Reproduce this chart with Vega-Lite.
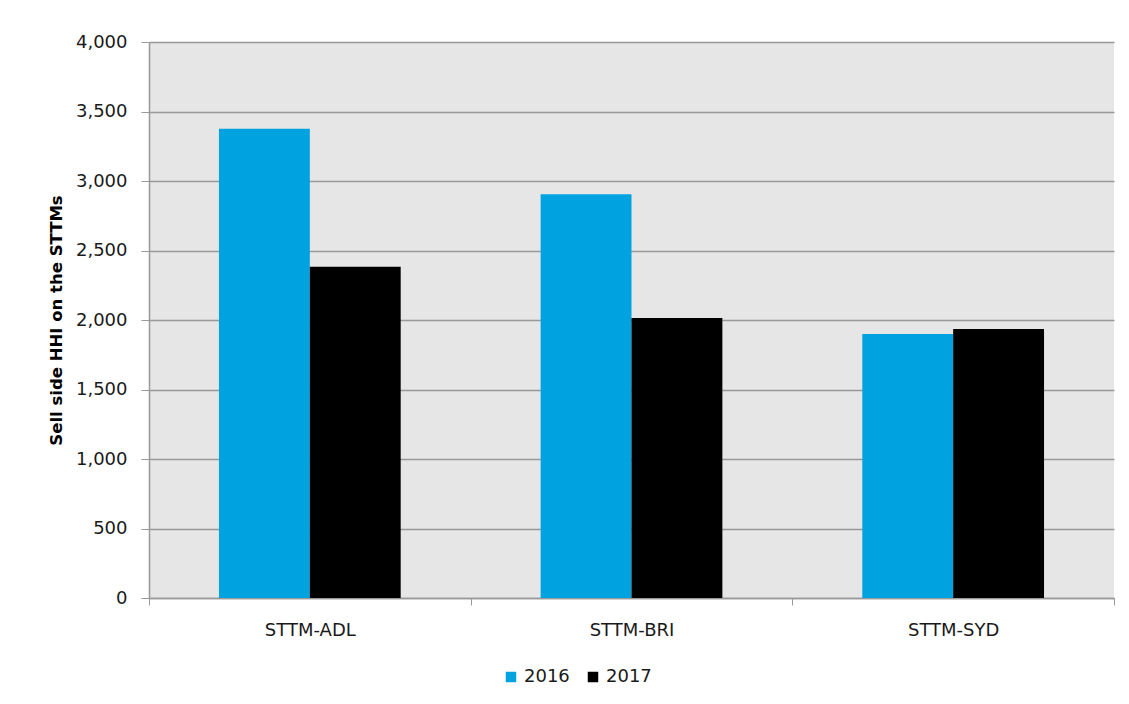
{
  "$schema": "https://vega.github.io/schema/vega-lite/v6.json",
  "autosize": "none",
  "width": 965,
  "height": 556,
  "padding": {"left": 149, "top": 42, "right": 15, "bottom": 106},
  "background": "white",
  "config": {
    "view": {"fill": "#E6E6E6", "stroke": null},
    "font": "DejaVu Sans"
  },
  "data": {
    "values": [
      {"market": "STTM-ADL", "year": "2016", "hhi": 3376},
      {"market": "STTM-ADL", "year": "2017", "hhi": 2383},
      {"market": "STTM-BRI", "year": "2016", "hhi": 2905},
      {"market": "STTM-BRI", "year": "2017", "hhi": 2015},
      {"market": "STTM-SYD", "year": "2016", "hhi": 1900},
      {"market": "STTM-SYD", "year": "2017", "hhi": 1936}
    ]
  },
  "mark": {"type": "bar"},
  "encoding": {
    "x": {
      "field": "market",
      "type": "nominal",
      "scale": {"paddingInner": 0, "paddingOuter": 0},
      "axis": {
        "title": null,
        "labelAngle": 0,
        "labelFont": "DejaVu Sans",
        "labelFontSize": 18,
        "labelColor": "#1a1a1a",
        "labelPadding": 16,
        "tickBand": "extent",
        "tickSize": 7,
        "tickColor": "#999999",
        "domainColor": "#999999",
        "domainWidth": 1.5,
        "grid": false
      }
    },
    "xOffset": {
      "field": "year",
      "type": "nominal",
      "scale": {"paddingInner": 0, "paddingOuter": 0.77}
    },
    "y": {
      "field": "hhi",
      "type": "quantitative",
      "scale": {"domain": [0, 4000]},
      "axis": {
        "title": "Sell side HHI on the STTMs",
        "titleFont": "DejaVu Sans",
        "titleFontSize": 16.5,
        "titleFontWeight": "bold",
        "titleColor": "#000000",
        "titlePadding": 11,
        "values": [0, 500, 1000, 1500, 2000, 2500, 3000, 3500, 4000],
        "format": ",d",
        "labelFont": "DejaVu Sans",
        "labelFontSize": 18,
        "labelColor": "#1a1a1a",
        "labelPadding": 14,
        "tickSize": 8,
        "tickColor": "#999999",
        "domainColor": "#999999",
        "domainWidth": 1.5,
        "grid": true,
        "gridColor": "#999999",
        "gridWidth": 1.5
      }
    },
    "color": {
      "field": "year",
      "type": "nominal",
      "scale": {"domain": ["2016", "2017"], "range": ["#00A3E0", "#000000"]},
      "legend": {
        "title": null,
        "orient": "none",
        "direction": "horizontal",
        "legendX": 353,
        "legendY": 626,
        "symbolType": "square",
        "symbolSize": 110,
        "symbolStrokeWidth": 0,
        "labelFont": "DejaVu Sans",
        "labelFontSize": 18,
        "labelColor": "#1a1a1a",
        "labelOffset": 4,
        "columnPadding": 14
      }
    }
  }
}
